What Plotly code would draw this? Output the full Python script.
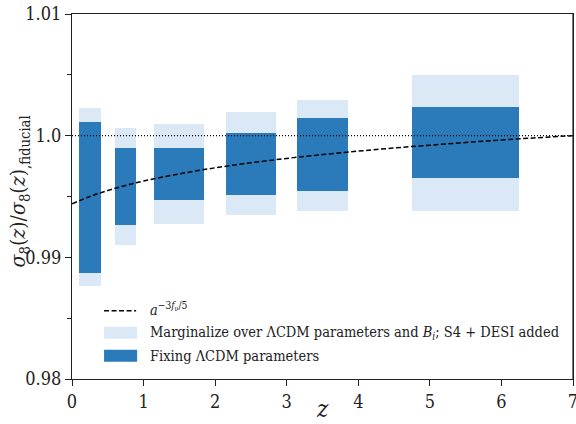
import plotly.graph_objects as go

# ---- data ----
z_center = [0.25, 0.75, 1.5, 2.5, 3.5, 5.5]
z_width = [0.3, 0.3, 0.7, 0.7, 0.7, 1.5]

marg_low = [0.98765, 0.99102, 0.99274, 0.99348, 0.99383, 0.99381]
marg_high = [1.00224, 1.00060, 1.00093, 1.00191, 1.00290, 1.00495]

fix_low = [0.98870, 0.99264, 0.99471, 0.99516, 0.99545, 0.99652]
fix_high = [1.00109, 0.99896, 0.99896, 1.00019, 1.00142, 1.00232]

curve_z = [0, 0.25, 0.5, 0.75, 1, 1.5, 2, 2.5, 3, 3.5, 4, 4.5, 5, 5.5, 6, 6.5, 7]
curve_ratio = [0.99440, 0.99500, 0.99549, 0.99591, 0.99627, 0.99686, 0.99736,
               0.99777, 0.99813, 0.99845, 0.99873, 0.99899, 0.99922, 0.99944,
               0.99964, 0.99983, 1.00000]

x_ticks = [0, 1, 2, 3, 4, 5, 6, 7]
y_ticks = [0.98, 0.99, 1.00, 1.01]
y_ticklabels = ["0.98", "0.99", "1.0", "1.01"]

LIGHT = "#dbe8f5"
DARK = "#2b7bba"
FONT = "'DejaVu Serif Condensed', 'DejaVu Serif', serif"

fig = go.Figure()

fig.add_trace(go.Bar(
    x=z_center, width=z_width, base=marg_low,
    y=[h - l for h, l in zip(marg_high, marg_low)],
    marker=dict(color=LIGHT, line=dict(width=0)),
    name="Marginalize over ΛCDM parameters and B_i; S4 + DESI added",
    showlegend=False, hoverinfo="skip"))

fig.add_trace(go.Bar(
    x=z_center, width=z_width, base=fix_low,
    y=[h - l for h, l in zip(fix_high, fix_low)],
    marker=dict(color=DARK, line=dict(width=0)),
    name="Fixing ΛCDM parameters",
    showlegend=False, hoverinfo="skip"))

fig.add_trace(go.Scatter(
    x=[0, 7], y=[1.0, 1.0], mode="lines",
    line=dict(color="black", width=1.2, dash="1px,2px"),
    showlegend=False, hoverinfo="skip"))

fig.add_trace(go.Scatter(
    x=curve_z, y=curve_ratio, mode="lines", line_shape="spline",
    line=dict(color="black", width=1.5, dash="5px,2.5px"),
    name="a^{-3fν/5}", showlegend=False, hoverinfo="skip"))

# ---- manual legend (matplotlib-like wide patches) ----
shapes = [
    dict(type="line", xref="paper", yref="paper", x0=0.064, x1=0.128, y0=0.187, y1=0.187,
         line=dict(color="black", width=1.5, dash="5px,2.5px")),
    dict(type="rect", xref="paper", yref="paper", x0=0.064, x1=0.130, y0=0.110, y1=0.143,
         fillcolor=LIGHT, line=dict(width=0)),
    dict(type="rect", xref="paper", yref="paper", x0=0.064, x1=0.130, y0=0.047, y1=0.080,
         fillcolor=DARK, line=dict(width=0)),
    # right frame line (explicit)
    dict(type="line", xref="paper", yref="paper", x0=1, x1=1, y0=0, y1=1,
         line=dict(color="#222", width=1.2)),
]
annotations = [
    dict(xref="paper", yref="paper", x=0.152, y=0.192, xanchor="left", yanchor="middle",
         text="<i>a</i><sup>−3<i>f</i><sub>ν</sub>/5</sup>", showarrow=False,
         font=dict(family=FONT, size=14.5, color="#222")),
    dict(xref="paper", yref="paper", x=0.152, y=0.127, xanchor="left", yanchor="middle",
         text="Marginalize over ΛCDM parameters and <i>B<sub>i</sub></i>; S4 + DESI added",
         showarrow=False, font=dict(family=FONT, size=14.5, color="#222")),
    dict(xref="paper", yref="paper", x=0.152, y=0.064, xanchor="left", yanchor="middle",
         text="Fixing ΛCDM parameters", showarrow=False,
         font=dict(family=FONT, size=14.5, color="#222")),
    # axis titles
    dict(xref="paper", yref="paper", x=0.5, y=-0.083, xanchor="center", yanchor="middle",
         text="<i>z</i>", showarrow=False, font=dict(family=FONT, size=24, color="#222")),
    dict(xref="paper", yref="paper", x=-0.105, y=0.515, xanchor="center", yanchor="middle",
         textangle=-90,
         text="<i>σ</i><sub>8</sub>(<i>z</i>)/<i>σ</i><sub>8</sub>(<i>z</i>)<sub>,fiducial</sub>",
         showarrow=False, font=dict(family=FONT, size=21, color="#222")),
]

fig.update_layout(
    width=576, height=424,
    margin=dict(l=72, r=3, t=14, b=45),
    paper_bgcolor="white", plot_bgcolor="white",
    barmode="overlay", bargap=0,
    font=dict(family=FONT, size=17, color="#222"),
    shapes=shapes, annotations=annotations,
    showlegend=False,
)

fig.update_xaxes(
    range=[0, 7], tickvals=x_ticks, ticktext=[str(t) for t in x_ticks],
    ticks="outside", ticklen=6, tickwidth=1, tickcolor="#222",
    showline=True, linecolor="#222", linewidth=1.2, mirror=True,
    showgrid=False, zeroline=False, automargin=False,
    ticklabeloverflow="allow",
    tickfont=dict(family=FONT, size=18),
)
fig.update_yaxes(
    range=[0.98, 1.01], tickvals=y_ticks, ticktext=y_ticklabels,
    ticks="outside", ticklen=6, tickwidth=1, tickcolor="#222",
    minor=dict(tickvals=[0.985, 0.995, 1.005], ticks="outside", ticklen=3.5,
               tickwidth=1, tickcolor="#222", showgrid=False),
    showline=True, linecolor="#222", linewidth=1.2, mirror=True,
    showgrid=False, zeroline=False, automargin=False,
    ticklabeloverflow="allow",
    tickfont=dict(family=FONT, size=18),
)

fig.write_html(
    "out.html",
    config={"displayModeBar": False},
    post_script="document.body.style.margin='0';document.body.style.overflow='hidden';",
)
